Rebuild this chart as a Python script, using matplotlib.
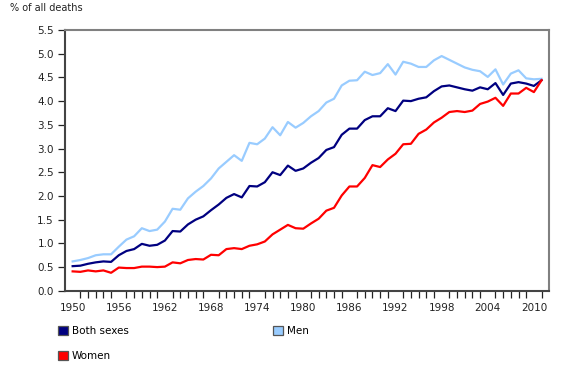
import numpy as np
import matplotlib
matplotlib.use("Agg")
import matplotlib.pyplot as plt
from matplotlib.patches import Patch

# 年ごとの値（% of all deaths）
years = np.arange(1950, 2012)

both_sexes = [0.52, 0.53, 0.57, 0.60, 0.62, 0.61, 0.75, 0.84, 0.88, 0.99,
              0.95, 0.97, 1.06, 1.26, 1.25, 1.40, 1.50, 1.57, 1.70, 1.82,
              1.96, 2.04, 1.97, 2.21, 2.20, 2.29, 2.50, 2.44, 2.64, 2.53,
              2.58, 2.70, 2.80, 2.97, 3.03, 3.29, 3.42, 3.42, 3.60, 3.68,
              3.68, 3.85, 3.79, 4.01, 4.00, 4.05, 4.08, 4.21, 4.31, 4.33,
              4.29, 4.25, 4.22, 4.29, 4.25, 4.38, 4.13, 4.37, 4.40, 4.37,
              4.32, 4.44]

men = [0.62, 0.65, 0.69, 0.75, 0.77, 0.77, 0.93, 1.08, 1.15, 1.32,
       1.26, 1.29, 1.46, 1.73, 1.71, 1.95, 2.09, 2.21, 2.37, 2.58,
       2.72, 2.86, 2.74, 3.12, 3.09, 3.21, 3.45, 3.28, 3.56, 3.44,
       3.54, 3.68, 3.79, 3.97, 4.05, 4.33, 4.43, 4.44, 4.62, 4.55,
       4.59, 4.78, 4.56, 4.83, 4.79, 4.72, 4.72, 4.86, 4.95, 4.87,
       4.79, 4.71, 4.66, 4.63, 4.51, 4.67, 4.35, 4.58, 4.65, 4.48,
       4.46, 4.47]

women = [0.41, 0.40, 0.43, 0.41, 0.43, 0.38, 0.49, 0.48, 0.48, 0.51,
         0.51, 0.50, 0.51, 0.60, 0.58, 0.65, 0.67, 0.66, 0.76, 0.75,
         0.88, 0.90, 0.88, 0.95, 0.98, 1.04, 1.19, 1.29, 1.39, 1.32,
         1.31, 1.42, 1.52, 1.69, 1.75, 2.01, 2.20, 2.20, 2.38, 2.65,
         2.61, 2.77, 2.89, 3.09, 3.10, 3.31, 3.40, 3.55, 3.65, 3.77,
         3.79, 3.77, 3.80, 3.94, 3.99, 4.07, 3.90, 4.16, 4.16, 4.28,
         4.19, 4.44]

labels = ["Both sexes", "Men", "Women"]
colors = ["#000080", "#99ccff", "#ff0000"]

plt.rcParams['font.family'] = ['Verdana', 'DejaVu Sans']
plt.rcParams['font.size'] = 7.5

fig = plt.figure(figsize=(5.8, 3.7), dpi=100)
ax = fig.add_axes([0.112, 0.214, 0.835, 0.705])

# 線を描く
ax.plot(years, men, color=colors[1], lw=1.6)
ax.plot(years, both_sexes, color=colors[0], lw=1.6)
ax.plot(years, women, color=colors[2], lw=1.6)

ax.set_xlim(1949, 2012)
ax.set_ylim(0, 5.5)
ax.set_yticks(np.arange(0, 5.51, 0.5))
ax.set_yticklabels([f"{v:.1f}" for v in np.arange(0, 5.51, 0.5)])
ax.set_xticks(np.arange(1950, 2011, 6))
ax.set_xticks(np.arange(1950, 2012), minor=True)
ax.tick_params(axis='x', which='major', length=0, pad=9, colors='#222222')
ax.tick_params(axis='x', which='minor', length=5, width=0.9, color='#222222')
ax.tick_params(axis='y', length=5, width=0.9, color='#222222', pad=3, labelcolor='#222222')

for side in ['top', 'right']:
    ax.spines[side].set_color('#808080')
    ax.spines[side].set_linewidth(1.5)
for side in ['left', 'bottom']:
    ax.spines[side].set_color('#444444')
    ax.spines[side].set_linewidth(1.5)

fig.text(0.017, 0.978, "% of all deaths", fontsize=7, color='#222222', va='center')

# 凡例（行ごとに並ぶように順番を入れ替え）
handles = [Patch(facecolor=c, edgecolor='#555555', linewidth=0.9) for c in colors]
order = [0, 2, 1]
fig.legend([handles[i] for i in order], [labels[i] for i in order],
           ncol=2, loc='upper left', bbox_to_anchor=(0.083, 0.145),
           frameon=False, handlelength=1.0, handleheight=1.0,
           handletextpad=0.4, columnspacing=13.8, labelspacing=1.45,
           fontsize=7.5)

fig.savefig("out.png", dpi=100)
